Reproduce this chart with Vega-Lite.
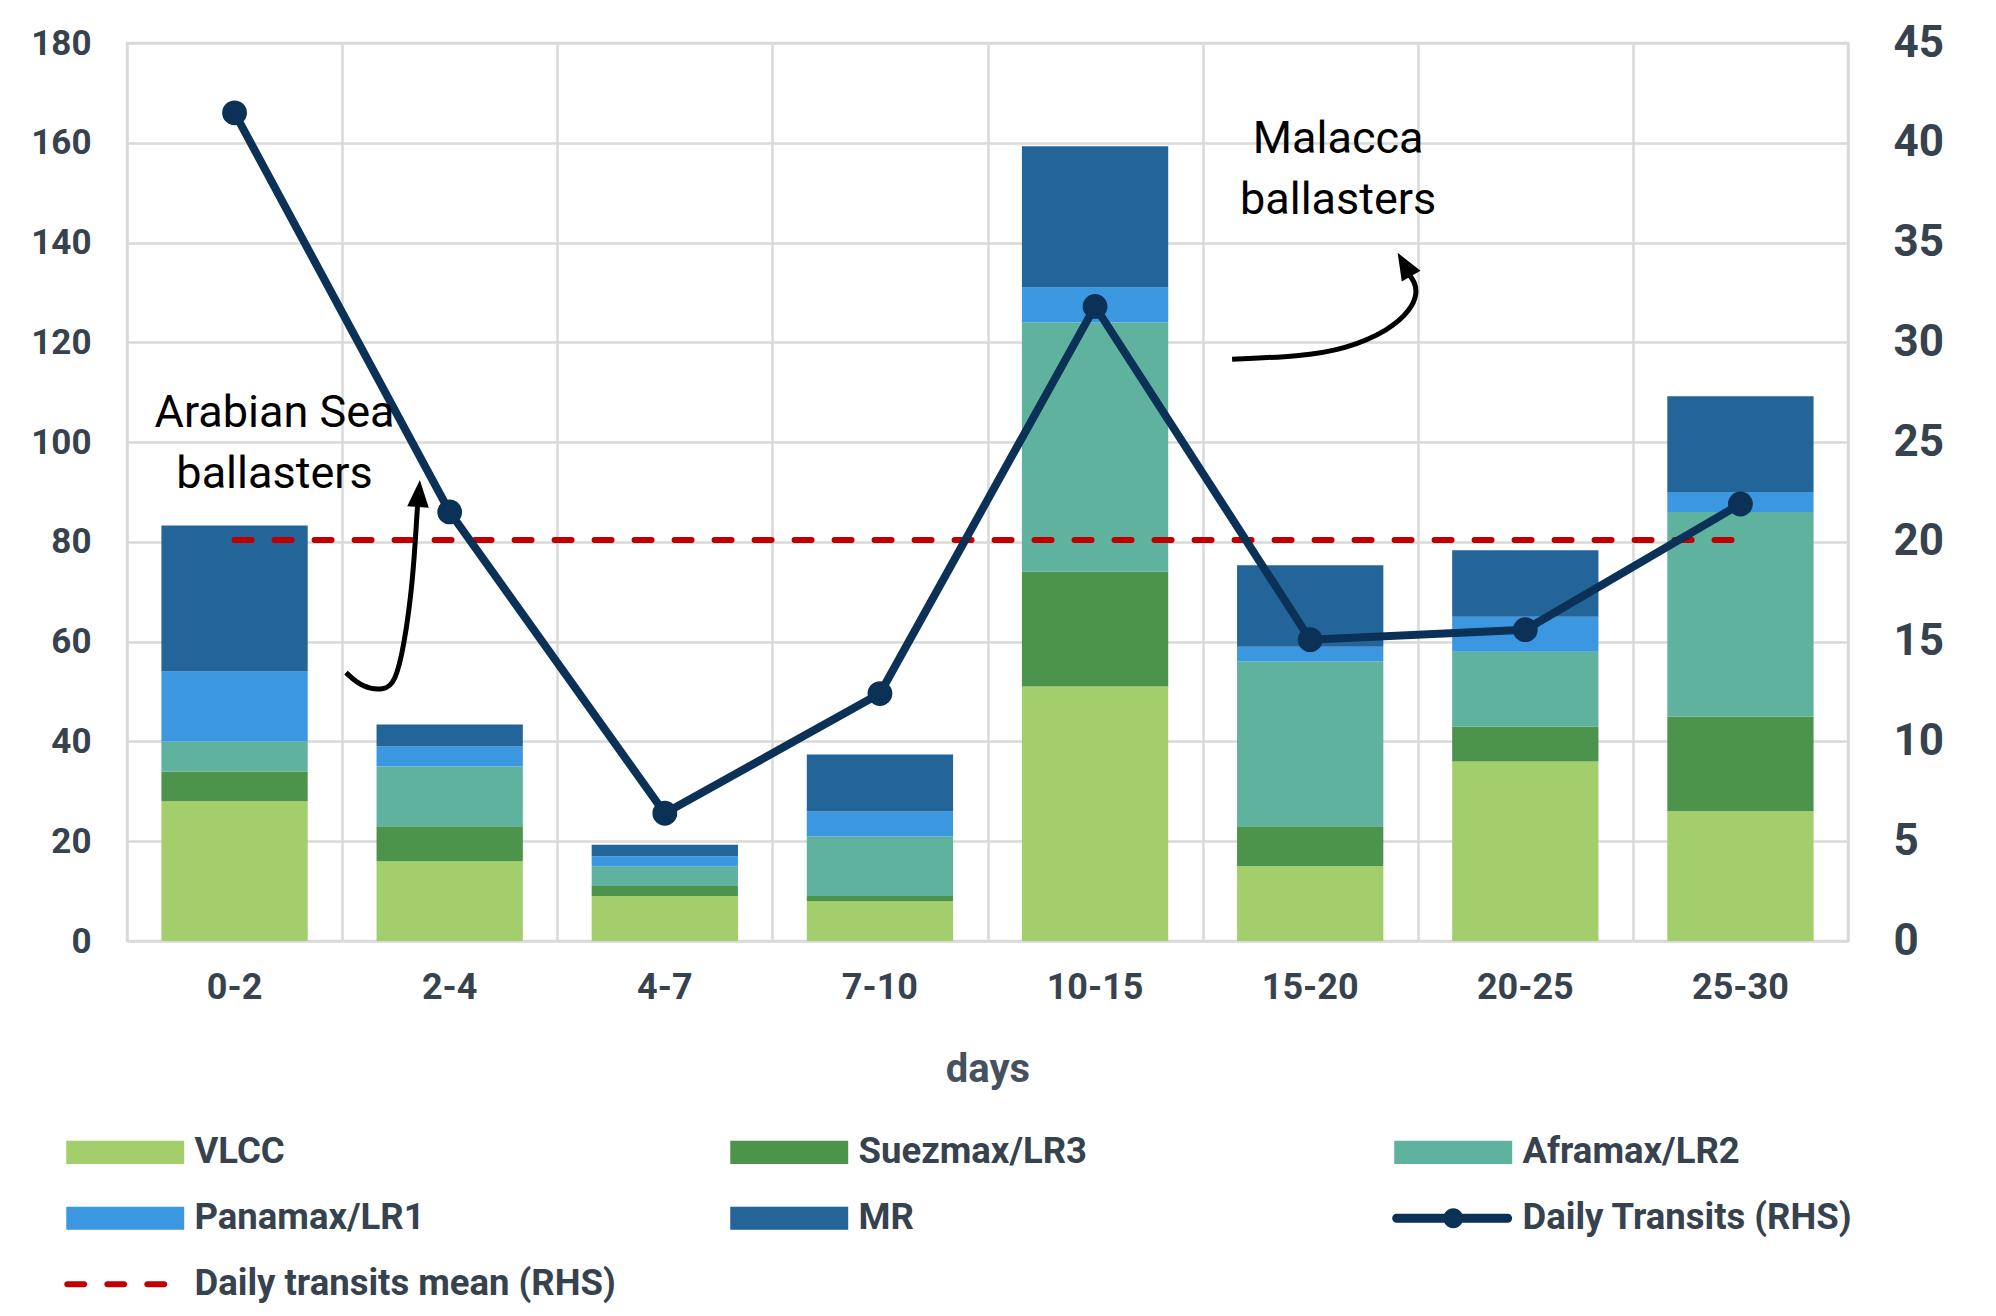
{
  "$schema": "https://vega.github.io/schema/vega-lite/v6.json",
  "width": 1721,
  "height": 898,
  "autosize": {"type": "none"},
  "padding": {"left": 127, "top": 43, "right": 148, "bottom": 375},
  "background": "#ffffff",
  "config": {
    "font": "Roboto",
    "view": {"stroke": "#D9D9D9", "strokeWidth": 2.5},
    "axis": {"labelFont": "Roboto", "titleFont": "Roboto"}
  },
  "datasets": {
    "fleet": [
      {"days": "0-2", "type": "VLCC", "count": 28},
      {"days": "0-2", "type": "Suezmax/LR3", "count": 6},
      {"days": "0-2", "type": "Aframax/LR2", "count": 6},
      {"days": "0-2", "type": "Panamax/LR1", "count": 14},
      {"days": "0-2", "type": "MR", "count": 29.3},
      {"days": "2-4", "type": "VLCC", "count": 16},
      {"days": "2-4", "type": "Suezmax/LR3", "count": 7},
      {"days": "2-4", "type": "Aframax/LR2", "count": 12},
      {"days": "2-4", "type": "Panamax/LR1", "count": 4},
      {"days": "2-4", "type": "MR", "count": 4.4},
      {"days": "4-7", "type": "VLCC", "count": 9},
      {"days": "4-7", "type": "Suezmax/LR3", "count": 2},
      {"days": "4-7", "type": "Aframax/LR2", "count": 4},
      {"days": "4-7", "type": "Panamax/LR1", "count": 2},
      {"days": "4-7", "type": "MR", "count": 2.3},
      {"days": "7-10", "type": "VLCC", "count": 8},
      {"days": "7-10", "type": "Suezmax/LR3", "count": 1},
      {"days": "7-10", "type": "Aframax/LR2", "count": 12},
      {"days": "7-10", "type": "Panamax/LR1", "count": 5},
      {"days": "7-10", "type": "MR", "count": 11.4},
      {"days": "10-15", "type": "VLCC", "count": 51},
      {"days": "10-15", "type": "Suezmax/LR3", "count": 23},
      {"days": "10-15", "type": "Aframax/LR2", "count": 50},
      {"days": "10-15", "type": "Panamax/LR1", "count": 7},
      {"days": "10-15", "type": "MR", "count": 28.3},
      {"days": "15-20", "type": "VLCC", "count": 15},
      {"days": "15-20", "type": "Suezmax/LR3", "count": 8},
      {"days": "15-20", "type": "Aframax/LR2", "count": 33},
      {"days": "15-20", "type": "Panamax/LR1", "count": 3},
      {"days": "15-20", "type": "MR", "count": 16.3},
      {"days": "20-25", "type": "VLCC", "count": 36},
      {"days": "20-25", "type": "Suezmax/LR3", "count": 7},
      {"days": "20-25", "type": "Aframax/LR2", "count": 15},
      {"days": "20-25", "type": "Panamax/LR1", "count": 7},
      {"days": "20-25", "type": "MR", "count": 13.3},
      {"days": "25-30", "type": "VLCC", "count": 26},
      {"days": "25-30", "type": "Suezmax/LR3", "count": 19},
      {"days": "25-30", "type": "Aframax/LR2", "count": 41},
      {"days": "25-30", "type": "Panamax/LR1", "count": 4},
      {"days": "25-30", "type": "MR", "count": 19.2}
    ],
    "transits": [
      {"days": "0-2", "transits": 41.5, "mean": 20.1},
      {"days": "2-4", "transits": 21.5, "mean": 20.1},
      {"days": "4-7", "transits": 6.4, "mean": 20.1},
      {"days": "7-10", "transits": 12.4, "mean": 20.1},
      {"days": "10-15", "transits": 31.8, "mean": 20.1},
      {"days": "15-20", "transits": 15.1, "mean": 20.1},
      {"days": "20-25", "transits": 15.6, "mean": 20.1},
      {"days": "25-30", "transits": 21.9, "mean": 20.1}
    ],
    "notes": [
      {"bx": 0.686, "y": 103.1, "note": "Arabian Sea\nballasters"},
      {"bx": 5.63, "y": 157.9, "note": "Malacca\nballasters"}
    ],
    "arrows": [
      {"arrow": "arabian", "seq": 1, "bx": 1.018, "y": 53.8},
      {"arrow": "arabian", "seq": 2, "bx": 1.093, "y": 50.8},
      {"arrow": "arabian", "seq": 3, "bx": 1.195, "y": 50.2},
      {"arrow": "arabian", "seq": 4, "bx": 1.246, "y": 51.8},
      {"arrow": "arabian", "seq": 5, "bx": 1.288, "y": 59.0},
      {"arrow": "arabian", "seq": 6, "bx": 1.330, "y": 72.5},
      {"arrow": "arabian", "seq": 7, "bx": 1.348, "y": 85.9},
      {"arrow": "arabian", "seq": 8, "bx": 1.353, "y": 88.5},
      {"arrow": "malacca", "seq": 1, "bx": 5.137, "y": 116.6},
      {"arrow": "malacca", "seq": 2, "bx": 5.453, "y": 117.2},
      {"arrow": "malacca", "seq": 3, "bx": 5.662, "y": 118.6},
      {"arrow": "malacca", "seq": 4, "bx": 5.867, "y": 122.4},
      {"arrow": "malacca", "seq": 5, "bx": 5.970, "y": 126.6},
      {"arrow": "malacca", "seq": 6, "bx": 5.998, "y": 130.0},
      {"arrow": "malacca", "seq": 7, "bx": 5.984, "y": 132.2},
      {"arrow": "malacca", "seq": 8, "bx": 5.960, "y": 133.6}
    ],
    "heads": [
      {"arrow": "arabian", "bx": 1.357, "y": 89.7},
      {"arrow": "malacca", "bx": 5.938, "y": 135.6}
    ]
  },
  "layer": [
    {
      "data": {"name": "fleet"},
      "transform": [
        {"calculate": "indexof(['VLCC','Suezmax/LR3','Aframax/LR2','Panamax/LR1','MR'], datum.type)", "as": "stackOrder"}
      ],
      "mark": {"type": "bar", "width": {"band": 0.68}},
      "encoding": {
        "x": {
          "field": "days", "type": "nominal", "sort": null,
          "scale": {"paddingInner": 0, "paddingOuter": 0},
          "axis": {
            "title": "days", "grid": false, "domain": false, "ticks": false, "tickSize": 0,
            "labelAngle": 0, "labelFontSize": 36, "labelFontWeight": "bold", "labelColor": "#37424F",
            "labelPadding": 29, "titleFontSize": 40, "titleFontWeight": "bold", "titleColor": "#47515E",
            "titlePadding": 44
          }
        },
        "y": {
          "field": "count", "type": "quantitative", "stack": "zero",
          "scale": {"domain": [0, 180], "nice": false},
          "axis": {
            "orient": "left", "title": null, "values": [0, 20, 40, 60, 80, 100, 120, 140, 160, 180],
            "grid": true, "gridColor": "#D9D9D9", "gridWidth": 2.5, "domain": false, "ticks": false, "tickSize": 0,
            "labelFontSize": 35, "labelFontWeight": "bold", "labelColor": "#37424F", "labelPadding": 36
          }
        },
        "color": {
          "field": "type", "type": "nominal",
          "scale": {
            "domain": ["VLCC", "Suezmax/LR3", "Aframax/LR2", "Panamax/LR1", "MR", "Daily Transits (RHS)", "Daily transits mean (RHS)"],
            "range": ["#A2CF6C", "#4C944C", "#5EB29E", "#3C97E1", "#236598", "#0B3157", "#C00000"]
          },
          "legend": {
            "title": null, "orient": "none", "legendX": -67, "legendY": 1091,
            "direction": "horizontal", "columns": 3, "gridAlign": "all",
            "columnPadding": 108, "rowPadding": 29, "padding": 0,
            "labelFont": "Roboto", "labelFontSize": 36.5, "labelFontWeight": "bold", "labelColor": "#37424F",
            "labelLimit": 900, "labelOffset": 98, "symbolSize": 576, "symbolStrokeWidth": 0, "symbolOpacity": 1,
            "symbolType": "M-1,-0.96H8.83V0.96H-1Z",
            "encode": {
              "symbols": {
                "update": {
                  "shape": [
                    {"test": "datum.value === 'Daily Transits (RHS)'", "value": "M-0.8,-0.375H8.45A0.375,0.375 0 0,1 8.45,0.375H-0.8A0.375,0.375 0 0,1 -0.8,-0.375Z M3.09,0A0.83,0.83 0 1,1 4.75,0A0.83,0.83 0 1,1 3.09,0Z"},
                    {"test": "datum.value === 'Daily transits mean (RHS)'", "value": "M-0.92,-0.25H0.5A0.25,0.25 0 0,1 0.5,0.25H-0.92A0.25,0.25 0 0,1 -0.92,-0.25Z M2.42,-0.25H3.83A0.25,0.25 0 0,1 3.83,0.25H2.42A0.25,0.25 0 0,1 2.42,-0.25Z M5.75,-0.25H7.17A0.25,0.25 0 0,1 7.17,0.25H5.75A0.25,0.25 0 0,1 5.75,-0.25Z"},
                    {"value": "M-1,-0.96H8.83V0.96H-1Z"}
                  ],
                  "strokeWidth": {"value": 0}
                }
              }
            }
          }
        },
        "order": {"field": "stackOrder", "type": "quantitative"}
      }
    },
    {
      "data": {"name": "transits"},
      "encoding": {
        "x": {
          "field": "days", "type": "nominal", "sort": null,
          "scale": {"paddingInner": 0, "paddingOuter": 0},
          "axis": null
        }
      },
      "layer": [
        {
          "mark": {"type": "line", "color": "#C00000", "strokeWidth": 6, "strokeDash": [17, 23], "strokeCap": "round"},
          "encoding": {
            "y": {
              "field": "mean", "type": "quantitative",
              "scale": {"domain": [0, 45], "nice": false},
              "axis": {
                "orient": "right", "title": null, "values": [0, 5, 10, 15, 20, 25, 30, 35, 40, 45],
                "grid": false, "domain": false, "ticks": false, "tickSize": 0,
                "labelFontSize": 44, "labelFontWeight": "bold", "labelColor": "#37424F", "labelPadding": 45
              }
            }
          }
        },
        {
          "mark": {"type": "line", "color": "#0B3157", "strokeWidth": 8},
          "encoding": {"y": {"field": "transits", "type": "quantitative"}}
        },
        {
          "mark": {"type": "point", "filled": true, "color": "#0B3157", "size": 616, "opacity": 1},
          "encoding": {"y": {"field": "transits", "type": "quantitative"}}
        }
      ]
    },
    {
      "encoding": {
        "x": {
          "field": "bx", "type": "quantitative",
          "scale": {"domain": [0, 8], "nice": false, "zero": false},
          "axis": {
            "values": [0, 1, 2, 3, 4, 5, 6, 7, 8], "grid": true, "gridColor": "#D9D9D9", "gridWidth": 2.5,
            "labels": false, "ticks": false, "domain": false, "title": null
          }
        },
        "y": {
          "field": "y", "type": "quantitative",
          "scale": {"domain": [0, 180], "nice": false},
          "axis": null
        }
      },
      "layer": [
        {
          "data": {"name": "notes"},
          "mark": {"type": "text", "font": "Roboto", "fontSize": 45, "align": "center", "baseline": "alphabetic", "lineBreak": "\n", "lineHeight": 61, "color": "#000000"},
          "encoding": {"text": {"field": "note", "type": "nominal"}}
        },
        {
          "data": {"name": "arrows"},
          "mark": {"type": "line", "interpolate": "basis", "color": "#000000", "strokeWidth": 5},
          "encoding": {
            "detail": {"field": "arrow", "type": "nominal"},
            "order": {"field": "seq", "type": "quantitative"}
          }
        },
        {
          "data": {"name": "heads"},
          "transform": [{"filter": "datum.arrow === 'arabian'"}],
          "mark": {"type": "point", "shape": "M0,-1L0.8,1L-0.8,1Z", "filled": true, "color": "#000000", "opacity": 1, "size": 729, "angle": 4}
        },
        {
          "data": {"name": "heads"},
          "transform": [{"filter": "datum.arrow === 'malacca'"}],
          "mark": {"type": "point", "shape": "M0,-1L0.8,1L-0.8,1Z", "filled": true, "color": "#000000", "opacity": 1, "size": 729, "angle": -30}
        }
      ]
    }
  ],
  "resolve": {"scale": {"x": "independent", "y": "independent"}}
}
